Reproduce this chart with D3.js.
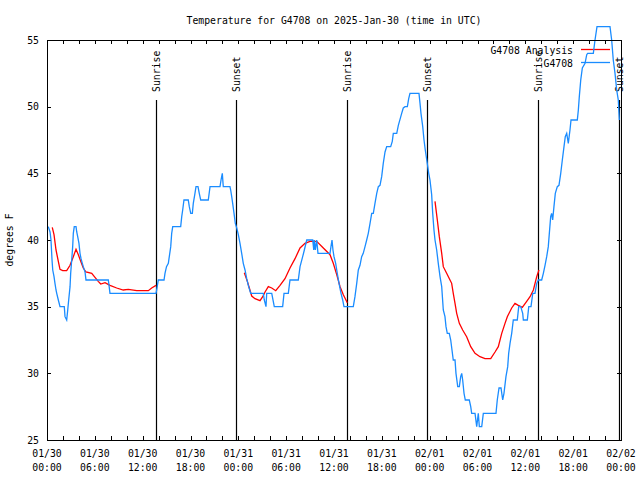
<!DOCTYPE html>
<html>
<head>
<meta charset="utf-8">
<script src="https://cdn.jsdelivr.net/npm/d3@7"></script>
<style>
  html, body { margin: 0; padding: 0; background: #fff; }
  svg { display: block; }
  text { font-family: "DejaVu Sans Mono", "Liberation Mono", monospace; font-size: 9.8px; fill: #000; }
</style>
</head>
<body>
<svg id="chart" width="640" height="480"></svg>
<script>
// ---------------- DATA ----------------
const chartTitle = "Temperature for G4708 on 2025-Jan-30 (time in UTC)";
const yAxisLabel = "degrees F";
const seriesNames = ["G4708 Analysis", "G4708"];
const startDate = Date.UTC(2025, 0, 30, 0, 0);   // 01/30 00:00 UTC
const endDate = Date.UTC(2025, 1, 2, 0, 0);      // 02/02 00:00 UTC
const yTicks = [25, 30, 35, 40, 45, 50, 55];

// Observations (hours since 01/30 00:00 UTC, degrees F)
const obsHours = [0.16,0.38,0.50,0.63,0.72,0.88,1.00,1.13,1.22,1.42,1.63,2.17,2.26,2.47,2.60,2.72,2.89,2.97,3.10,3.22,3.30,3.42,3.64,3.73,3.85,4.01,4.14,4.27,4.43,4.55,4.77,4.89,7.69,7.78,7.90,13.67,13.76,13.96,14.68,14.80,14.99,15.22,15.34,15.52,15.64,15.77,16.77,16.90,17.02,17.18,17.72,17.85,18.03,18.23,18.35,18.56,18.69,18.94,19.10,19.28,20.23,20.45,21.70,21.83,21.99,22.11,22.95,23.04,23.17,23.29,23.46,23.62,23.80,24.00,24.21,24.42,24.62,24.84,25.05,25.25,25.55,27.13,27.26,27.47,27.56,28.19,28.51,29.56,29.73,30.27,30.48,31.52,31.74,32.07,32.28,32.58,33.33,33.46,33.53,33.66,33.83,33.99,35.50,35.62,35.75,35.87,36.00,36.21,36.41,36.63,36.88,37.09,37.25,38.42,38.63,38.85,39.05,39.26,39.47,39.67,39.89,40.10,40.30,40.52,40.73,40.93,41.14,41.36,41.56,41.77,41.98,42.18,42.40,42.61,43.11,43.31,43.44,43.87,44.07,44.28,44.49,44.69,44.91,45.20,45.37,45.53,46.66,46.79,46.91,47.13,47.29,47.45,47.70,47.88,48.04,48.25,48.38,48.54,48.67,48.88,49.08,49.30,49.51,49.71,49.92,50.05,50.21,50.46,50.64,50.80,50.96,51.18,51.30,51.52,51.72,51.89,52.02,52.14,52.31,52.47,52.97,53.15,53.27,53.69,53.90,54.10,54.23,54.53,54.73,56.32,56.48,56.70,56.95,57.16,57.32,57.57,57.79,57.91,58.08,58.29,58.49,58.99,59.17,59.42,59.67,59.75,60.25,60.43,60.71,60.93,61.21,61.43,61.63,62.05,62.26,62.47,62.68,62.88,63.01,63.18,63.30,63.43,63.59,63.76,64.01,64.22,64.44,64.64,64.85,65.01,65.19,65.39,65.60,65.73,66.52,66.65,66.77,66.95,67.15,67.49,67.70,67.82,68.53,68.74,68.99,70.62,70.83,71.03,71.25,71.46,71.66,71.79];
const obsTemps = [41,40.6,40,38.5,37.75,37.25,36.75,36.25,36,35.5,35,35,34.25,34,34.75,35.5,36.5,37.5,38.5,39.5,40.5,41,41,40.6,40.25,39.75,39,38.6,38.25,38,37.6,37,37,36.6,36,36,36.25,37,37,37.5,38,38.25,38.75,39.5,40.5,41,41,41.75,42.25,43,43,42.5,42,42,42.75,43.5,44,44,43.5,43,43,44,44,44.5,45,44,44,43.75,43.25,42.75,42,41.25,40.9,40.4,39.75,39,38.25,37.75,37.1,36.6,36,36,35.5,35,36,36,35,35,36,36,37,37,38,38.75,39.25,40,40,39.25,40,39.25,40,39,39,39.5,40,39.25,38.75,38.25,37.5,36.75,36,35.5,35,35,35.75,36.75,37.75,38.1,38.75,39,39.5,40,40.5,41.25,42,42,42.75,43.5,44,44.1,44.75,45.75,46.6,47,47,47.4,48,48,48.6,49.05,49.5,49.9,50,50,50.6,51,51,50.25,49.5,48.5,47.5,46.75,45.75,45,44.5,43.4,42,40.75,40,39.25,38.25,37.25,36.5,34.75,34.25,33.5,33,33,32.5,31.75,31,31,30,29,29,29.75,30,29.5,28.5,28,28,27.5,27,27,26,27,26,26,27,27,28,28.9,28.9,28,28.5,29.75,30.5,31.5,32.25,33,34,34,35,35,34.5,34,34,35,35,36,36,36.75,37,37,37.5,38.1,38.75,39.5,40.5,41.75,42,41.5,42.5,43.5,44,44.1,45,46,47,47.75,48,47.25,48.25,49,49,49.75,50.75,52,52.9,53.25,53.9,54,54,55,56,56,55,53.5,52.5,51.25,50.5,49];

// Analysis (hours, degrees F); null = no analysis
const anaHours = [0.66,0.88,1.13,1.42,1.63,1.97,2.47,2.89,3.30,3.64,3.93,4.23,4.55,4.89,5.61,6.02,6.43,6.74,7.28,7.90,8.74,9.57,10.20,11.25,12.71,13.13,13.67,
  18.0,
  24.75,25.13,25.38,25.68,26.09,26.72,27.06,27.35,27.76,28.19,28.69,29.23,29.85,30.48,31.11,31.74,32.36,32.99,33.83,34.66,35.50,35.91,36.34,36.76,37.17,37.67,
  42.0,
  48.67,48.96,49.21,49.51,49.71,50.13,50.55,50.76,50.96,51.18,51.39,51.72,52.14,52.64,53.15,53.69,54.31,54.94,55.66,56.20,56.61,57.04,57.45,57.74,58.29,58.70,59.12,59.62,60.17,60.59,61.01,61.43,61.71];
const anaTemps = [40.95,40.4,39.25,38.4,37.8,37.7,37.7,38.1,38.75,39.3,38.9,38.4,37.9,37.6,37.5,37.2,36.9,36.7,36.8,36.6,36.4,36.25,36.3,36.2,36.2,36.4,36.6,
  null,
  37.55,36.9,36.4,35.8,35.6,35.45,35.75,36.1,36.5,36.4,36.2,36.6,37.1,37.9,38.6,39.4,39.75,39.9,39.9,39.4,38.9,38.25,37.4,36.5,35.9,35.3,
  null,
  42.9,41.5,40.25,39,38,37.5,37,36.75,36,35.25,34.5,33.75,33.25,32.75,32,31.5,31.25,31.1,31.1,31.6,32,33,33.75,34.25,34.9,35.25,35.1,34.95,35.4,35.75,36.25,37.25,37.75];

// Sunrise / sunset (hours since start)
const sunEventHours = [13.65, 23.75, 37.66, 47.72, 61.64, 71.79];
const sunEventNames = ["Sunrise", "Sunset", "Sunrise", "Sunset", "Sunrise", "Sunset"];

// ---------------- CHART ----------------
const W = 640, H = 480;
const margin = { top: 40, right: 19, bottom: 40, left: 47 };
const plotL = margin.left, plotR = W - margin.right, plotT = margin.top, plotB = H - margin.bottom;

const svg = d3.select("#chart");
const hourToDate = h => new Date(startDate + h * 3600000);

const x = d3.scaleUtc().domain([new Date(startDate), new Date(endDate)]).range([plotL, plotR]);
const y = d3.scaleLinear().domain([25, 55]).range([plotB, plotT]);

const obs = obsHours.map((h, i) => ({ t: hourToDate(h), v: obsTemps[i] }));
const ana = anaHours.map((h, i) => ({ t: hourToDate(h), v: anaTemps[i] }));

// Title
svg.append("text")
  .attr("x", (plotL + plotR) / 2).attr("y", 24)
  .attr("text-anchor", "middle")
  .text(chartTitle);

// Y axis label
svg.append("text")
  .attr("transform", `translate(13,${(plotT + plotB) / 2}) rotate(-90)`)
  .attr("text-anchor", "middle")
  .attr("dy", "0")
  .text(yAxisLabel);

const majorTicks = d3.utcHour.every(6).range(new Date(startDate), new Date(endDate + 1));
const minorTicks = d3.utcHour.every(2).range(new Date(startDate), new Date(endDate + 1));

// Bottom ticks (inward)
const gB = svg.append("g").attr("transform", `translate(0,${plotB})`)
  .call(d3.axisBottom(x).tickValues(minorTicks).tickSizeInner(-4).tickSizeOuter(0).tickFormat(""));
// Top ticks (inward)
const gT = svg.append("g").attr("transform", `translate(0,${plotT})`)
  .call(d3.axisTop(x).tickValues(minorTicks).tickSizeInner(-4).tickSizeOuter(0).tickFormat(""));
// Left ticks + labels
const gL = svg.append("g").attr("transform", `translate(${plotL},0)`)
  .call(d3.axisLeft(y).tickValues(yTicks).tickSizeInner(-4).tickSizeOuter(0).tickPadding(8).tickFormat(d3.format("d")));
// Right ticks
const gR = svg.append("g").attr("transform", `translate(${plotR},0)`)
  .call(d3.axisRight(y).tickValues(yTicks).tickSizeInner(-4).tickSizeOuter(0).tickFormat(""));

[gB, gT, gL, gR].forEach(g => {
  g.select(".domain").remove();
  g.selectAll(".tick line").attr("stroke", "#000").attr("shape-rendering", "crispEdges");
  g.selectAll("text").attr("font-family", null).attr("font-size", null);
  g.attr("font-family", null).attr("font-size", null);
});
gL.selectAll(".tick text").attr("fill", "#000");

// Two-line x labels
const fmtDay = d3.utcFormat("%m/%d"), fmtTime = d3.utcFormat("%H:%M");
const xl = svg.append("g");
majorTicks.forEach(d => {
  const t = xl.append("text").attr("text-anchor", "middle").attr("x", x(d));
  t.append("tspan").attr("x", x(d)).attr("y", 456.5).text(fmtDay(d));
  t.append("tspan").attr("x", x(d)).attr("y", 470.5).text(fmtTime(d));
});

// Sunrise / sunset lines & labels
const sunG = svg.append("g");
sunEventHours.forEach((h, i) => {
  const sx = Math.round(x(hourToDate(h))) + 0.5;
  sunG.append("line")
    .attr("x1", sx).attr("x2", sx)
    .attr("y1", plotB).attr("y2", plotB - 0.85 * (plotB - plotT))
    .attr("stroke", "#000").attr("stroke-width", 1.2);
  sunG.append("text")
    .attr("transform", `translate(${sx},${plotB - 0.87 * (plotB - plotT)}) rotate(-90)`)
    .attr("text-anchor", "start")
    .attr("dy", "0.35em")
    .text(sunEventNames[i]);
});

// Legend
const legX2 = 573, legL1 = 581, legL2 = 610;
svg.append("text").attr("x", legX2).attr("y", 54).attr("text-anchor", "end").text(seriesNames[0]);
svg.append("line").attr("x1", legL1).attr("x2", legL2).attr("y1", 49.5).attr("y2", 49.5)
  .attr("stroke", "#ff0000").attr("stroke-width", 1.3);
svg.append("text").attr("x", legX2).attr("y", 67).attr("text-anchor", "end").text(seriesNames[1]);
svg.append("line").attr("x1", legL1).attr("x2", legL2).attr("y1", 62.5).attr("y2", 62.5)
  .attr("stroke", "#1a8cff").attr("stroke-width", 1.3);

// Lines
const line = d3.line().defined(d => d.v !== null).x(d => x(d.t)).y(d => y(d.v));
svg.append("path").datum(ana)
  .attr("fill", "none").attr("stroke", "#ff0000").attr("stroke-width", 1.3)
  .attr("d", line);
svg.append("path").datum(obs)
  .attr("fill", "none").attr("stroke", "#1a8cff").attr("stroke-width", 1.3)
  .attr("d", line);

// Frame
svg.append("rect")
  .attr("x", plotL + 0.5).attr("y", plotT + 0.5)
  .attr("width", plotR - plotL).attr("height", plotB - plotT)
  .attr("fill", "none").attr("stroke", "#000").attr("stroke-width", 1)
  .attr("shape-rendering", "crispEdges");
</script>
</body>
</html>
